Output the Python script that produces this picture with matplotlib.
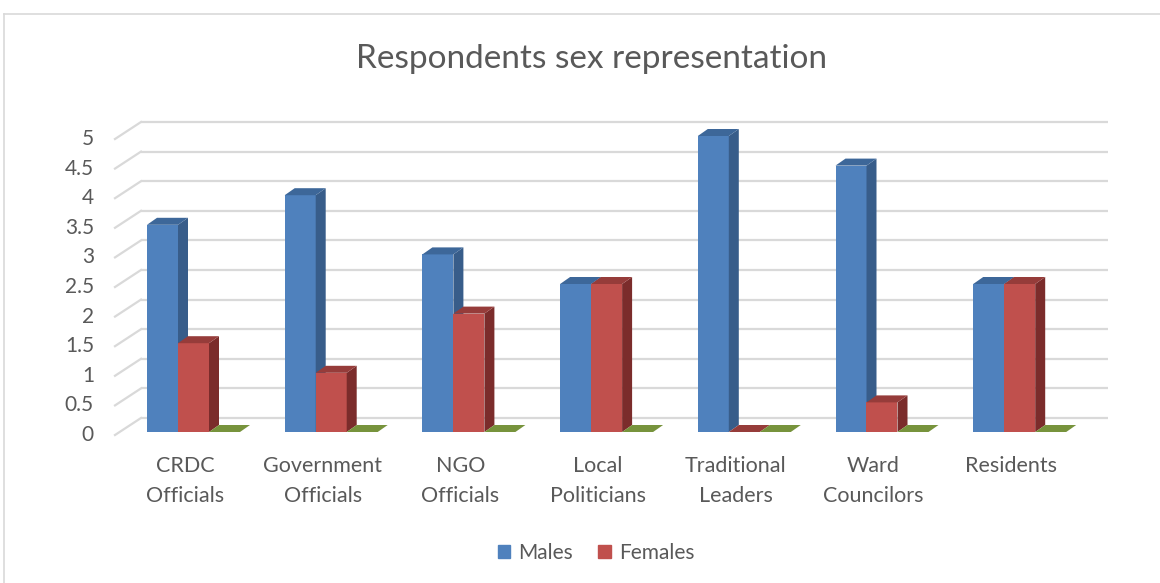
import numpy as np
import matplotlib.pyplot as plt
from matplotlib.patches import Patch

# data
categories = ["CRDC\nOfficials", "Government\nOfficials", "NGO\nOfficials",
              "Local\nPoliticians", "Traditional\nLeaders", "Ward\nCouncilors",
              "Residents"]
males = [3.5, 4, 3, 2.5, 5, 4.5, 2.5]
females = [1.5, 1, 2, 2.5, 0, 0.5, 2.5]
series3 = [0, 0, 0, 0, 0, 0, 0]
y_ticks = np.arange(0, 5.01, 0.5)

plt.rcParams['font.family'] = ['Lato', 'DejaVu Sans']
TXT = '#595959'
GRID = '#d9d9d9'

W, H = 1160, 583
fig = plt.figure(figsize=(W / 100, H / 100), dpi=100)

# pixel scale of the bar front plane
PX_X, PX_Y = 137.7, 59.2
X0, Y0 = 185, 432
L, R, B, T = 100, 1120, 440, 110
ax = fig.add_axes([L / W, 1 - B / H, (R - L) / W, (B - T) / H])
ax.set_xlim((L - X0) / PX_X, (R - X0) / PX_X)
ax.set_ylim((Y0 - B) / PX_Y, (Y0 - T) / PX_Y)
ax.axis('off')


def off(dx, dy):
    return dx / PX_X, dy / PX_Y


bdx, bdy = off(10, 7)      # bar depth
wbx, wby = off(22, 14)     # back wall
wfx, wfy = off(-4, -3)     # front edge of side wall
xl = (119 - X0) / PX_X
xr = (1108 - X0) / PX_X

# gridlines on back wall and side wall
for v in y_ticks:
    ax.plot([xl + wbx, xr], [v + wby, v + wby], color=GRID, lw=1.6,
            clip_on=False, zorder=1, solid_capstyle='butt')
    ax.plot([xl + wfx, xl + wbx], [v + wfy, v + wby], color=GRID, lw=1.6,
            clip_on=False, zorder=1)
    ax.text((94 - X0) / PX_X, v + wfy, f"{v:g}", ha='right', va='center',
            fontsize=15, color=TXT)

bw = 31 / PX_X
lefts = [-38 / PX_X, -7 / PX_X, 24 / PX_X]
colors = [('#4f81bd', '#385d8a', '#3d6799'),
          ('#c0504d', '#7b2c2b', '#963c3a'),
          ('#77933c', '#5e752f', '#77933c')]
all_series = [males, females, series3]

z = 2
for i in range(len(categories)):
    for s, vals in enumerate(all_series):
        v = vals[i]
        x = i + lefts[s]
        front, side, top = colors[s]
        if v > 0:
            ax.bar(x, v, width=bw, align='edge', color=front, zorder=z,
                   linewidth=0)
            ax.fill([x + bw, x + bw + bdx, x + bw + bdx, x + bw],
                    [0, bdy, v + bdy, v], color=side, zorder=z, lw=0)
        ax.fill([x, x + bw, x + bw + bdx, x + bdx],
                [v, v, v + bdy, v + bdy], color=top, zorder=z, lw=0)
        z += 1

for i, c in enumerate(categories):
    for k, line in enumerate(c.split("\n")):
        ax.text(i, (Y0 - 466 - 30 * k) / PX_Y, line, ha='center',
                va='center', fontsize=15.5, color=TXT)

fig.text(592 / W, 1 - 59 / H, "Respondents sex representation",
         ha='center', va='center', fontsize=24, color=TXT)

handles = [Patch(color=colors[0][0]), Patch(color=colors[1][0])]
leg = fig.legend(handles, ["Males", "Females"], loc='center',
                 bbox_to_anchor=(596 / W, 1 - 553 / H), ncol=2, frameon=False,
                 handlelength=0.6, handleheight=0.6, handletextpad=0.4,
                 columnspacing=1.2, fontsize=15)
for t in leg.get_texts():
    t.set_color(TXT)

# chart area border
fig.add_artist(plt.Line2D([4 / W, 4 / W], [0, 1 - 14 / H], color=GRID,
                          lw=1.2, transform=fig.transFigure))
fig.add_artist(plt.Line2D([4 / W, 1], [1 - 14 / H, 1 - 14 / H], color=GRID,
                          lw=1.2, transform=fig.transFigure))

fig.savefig('out.png', dpi=100)
